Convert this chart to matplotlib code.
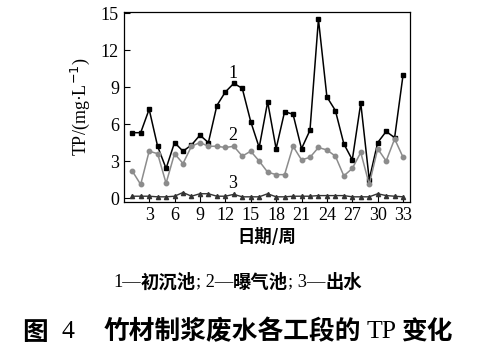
import matplotlib
matplotlib.use("Agg")
import matplotlib.pyplot as plt

plt.rcParams['font.family'] = ['Liberation Serif', 'Noto Sans CJK SC']

weeks = list(range(1, 34))
tp_primary = [5.3, 5.3, 7.2, 4.2, 2.4, 4.5, 3.8, 4.3, 5.1, 4.5, 7.5,
              8.6, 9.3, 8.9, 6.2, 4.1, 7.8, 4.0, 7.0, 6.8, 4.0, 5.5,
              14.5, 8.2, 7.1, 4.4, 3.1, 7.7, 1.5, 4.5, 5.4, 4.9, 10.0]
tp_aeration = [2.2, 1.1, 3.8, 3.6, 1.2, 3.6, 2.8, 4.2, 4.5, 4.2, 4.2,
               4.1, 4.2, 3.4, 3.8, 3.0, 2.1, 1.9, 1.9, 4.2, 3.1, 3.3,
               4.1, 3.9, 3.4, 1.8, 2.4, 3.7, 1.1, 4.0, 3.0, 4.8, 3.3]
tp_effluent = [0.15, 0.15, 0.15, 0.1, 0.1, 0.15, 0.45, 0.15, 0.35, 0.35, 0.15,
               0.15, 0.3, 0.1, 0.1, 0.1, 0.35, 0.1, 0.1, 0.15, 0.15, 0.15,
               0.2, 0.2, 0.2, 0.2, 0.1, 0.1, 0.1, 0.35, 0.2, 0.15, 0.1]
x_ticks = list(range(3, 34, 3))
y_ticks = [0, 3, 6, 9, 12, 15]

CJK = 'Noto Sans CJK SC'
SERIF = 'Liberation Serif'


def text_run(fig, x0, y, parts, size):
    # place text pieces one after another (pixel x, figure-fraction y)
    renderer = fig.canvas.get_renderer()
    x = x0
    for s, fam, wt, gap in parts:
        x += gap
        t = fig.text(x / fig.bbox.width, y, s, fontsize=size, fontfamily=fam,
                     fontweight=wt, ha='left', va='center')
        x += t.get_window_extent(renderer).width


fig = plt.figure(figsize=(4.95, 3.59), dpi=100)
ax = fig.add_axes([0.25, 0.438, 0.578, 0.529])

ax.plot(weeks, tp_primary, color='black', marker='s', markersize=3.2, linewidth=1.1)
ax.plot(weeks, tp_aeration, color='#8c8c8c', marker='o', markersize=3.2, linewidth=1.1)
ax.plot(weeks, tp_effluent, color='#333333', marker='^', markersize=3, linewidth=1.0)

ax.text(12.9, 10.1, '1', fontsize=13, ha='center', va='center')
ax.text(12.9, 5.1, '2', fontsize=13, ha='center', va='center')
ax.text(12.9, 1.2, '3', fontsize=13, ha='center', va='center')

ax.set_xlim(0, 33.8)
ax.set_ylim(-0.3, 15.1)
ax.set_xticks(x_ticks)
ax.set_yticks(y_ticks)
ax.tick_params(direction='in', length=4, labelsize=13, width=0.8)
for s in ax.spines.values():
    s.set_linewidth(0.9)

ax.set_xlabel('日期/周', fontsize=12.5, fontfamily=CJK, fontweight='bold', labelpad=3)
ax.set_ylabel('TP/(mg·L$^{-1}$)', fontsize=13, labelpad=6)

text_run(fig, 113, 0.214, [
    ('1—', SERIF, 'normal', 0), ('初沉池', CJK, 'bold', 0), ('; 2—', SERIF, 'normal', 0),
    ('曝气池', CJK, 'bold', 0), ('; 3—', SERIF, 'normal', 0), ('出水', CJK, 'bold', 0),
], 13.2)

text_run(fig, 22, 0.075, [
    ('图', CJK, 'bold', 0), ('4', SERIF, 'normal', 14), ('竹材制浆废水各工段的', CJK, 'bold', 29),
    ('TP', SERIF, 'normal', 5), ('变化', CJK, 'bold', 5),
], 18.5)

fig.savefig('out.png', dpi=100)
